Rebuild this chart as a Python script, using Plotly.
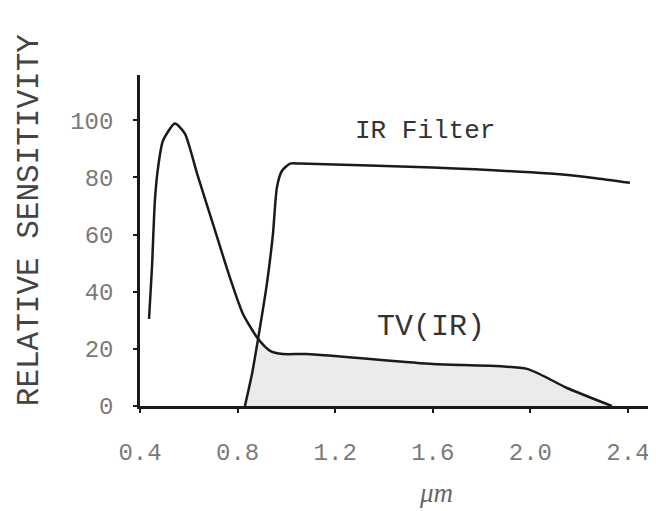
import plotly.graph_objects as go

# TV (camera) relative sensitivity curve
tv_x = [0.437, 0.449, 0.461, 0.474, 0.494, 0.543, 0.584, 0.634, 0.699, 0.769,
        0.822, 0.884, 0.933, 0.986, 1.084, 1.601, 1.986, 2.15, 2.334]
tv_y = [30.5, 48.3, 71.8, 83.4, 92.8, 98.8, 95.3, 81.3, 63.7, 44.8,
        32.2, 23.5, 19.3, 18.2, 18.2, 14.7, 13.0, 6.3, 0.0]

# IR filter transmission curve
ir_x = [0.830, 0.859, 0.884, 0.920, 0.945, 0.961, 0.982, 1.015, 1.056, 1.601,
        2.08, 2.26, 2.408]
ir_y = [0.0, 11.2, 23.5, 42.7, 60.2, 76.4, 82.3, 84.8, 84.8, 83.4,
        81.3, 79.8, 78.1]

x_ticks = [0.4, 0.8, 1.2, 1.6, 2.0, 2.4]
x_ticklabels = ["0.4", "0.8", "1.2", "1.6", "2.0", "2.4"]
y_ticks = [0, 20, 40, 60, 80, 100]
y_ticklabels = ["0", "20", "40", "60", "80", "100"]

cross_x = 0.884  # where the two curves meet
fill_x = [x for x in ir_x if x <= cross_x] + [x for x in tv_x if x > cross_x]
fill_y = [y for x, y in zip(ir_x, ir_y) if x <= cross_x] + [y for x, y in zip(tv_x, tv_y) if x > cross_x]

fig = go.Figure()
fig.add_trace(go.Scatter(x=fill_x, y=fill_y, mode="lines", fill="tozeroy",
                         fillcolor="#ebebeb", line=dict(width=0, shape="spline", smoothing=0.6),
                         hoverinfo="skip", showlegend=False))
fig.add_trace(go.Scatter(x=tv_x, y=tv_y, mode="lines",
                         line=dict(color="#1a1a1a", width=2.5, shape="spline", smoothing=0.6),
                         showlegend=False))
fig.add_trace(go.Scatter(x=ir_x, y=ir_y, mode="lines",
                         line=dict(color="#1a1a1a", width=2.5, shape="spline", smoothing=0.6),
                         showlegend=False))

tick_font = dict(family="Liberation Mono", size=24, color="#7a7a7a")

# the page body adds an 8px offset, so the figure is 8px smaller on each axis
fig.update_layout(
    width=648, height=503,
    margin=dict(l=132, r=0, t=67, b=105),
    paper_bgcolor="white", plot_bgcolor="white",
    xaxis=dict(range=[0.4, 2.515], tickvals=x_ticks, ticktext=x_ticklabels,
               showgrid=False, zeroline=False, showline=True, linecolor="#1a1a1a",
               linewidth=2.5, ticks="outside", ticklen=4, tickwidth=2, tickcolor="#1a1a1a",
               tickfont=tick_font, ticklabelstandoff=18),
    yaxis=dict(range=[0, 115.8], tickvals=y_ticks, ticktext=y_ticklabels,
               showgrid=False, zeroline=False, showline=True, linecolor="#1a1a1a",
               linewidth=2.5, ticks="outside", ticklen=4, tickwidth=2, tickcolor="#1a1a1a",
               tickfont=tick_font, ticklabelstandoff=15),
    annotations=[
        dict(text="IR Filter", x=1.568, y=96.3, xref="x", yref="y", showarrow=False,
             font=dict(family="Liberation Mono", size=26, color="#333333")),
        dict(text="TV(IR)", x=1.593, y=27.7, xref="x", yref="y", showarrow=False,
             font=dict(family="Liberation Mono", size=30, color="#333333")),
        dict(text="<i>μm</i>", x=1.613, y=-0.262, xref="x", yref="paper", showarrow=False,
             yanchor="middle", font=dict(family="Liberation Serif", size=27, color="#666666")),
        dict(text="RELATIVE SENSITIVITY", x=-0.214, y=0.56, xref="paper", yref="paper",
             showarrow=False, textangle=-90, xanchor="center", yanchor="middle",
             font=dict(family="Liberation Mono", size=31, color="#444444")),
    ],
)

fig.write_html("out.html")
